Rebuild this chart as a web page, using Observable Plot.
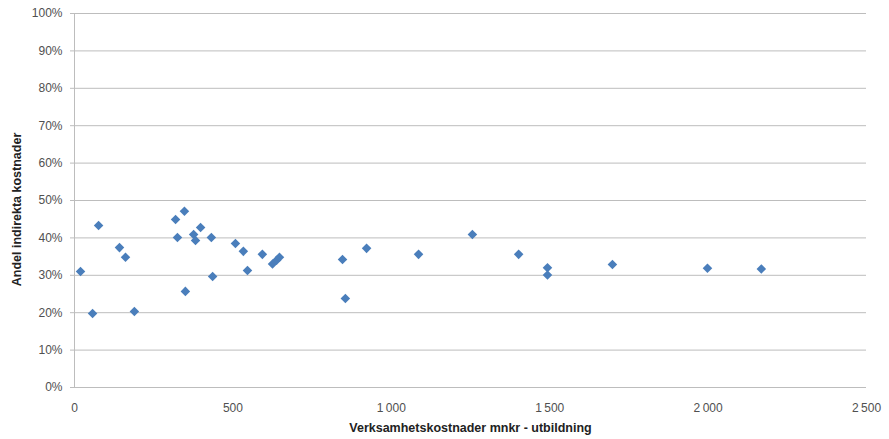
<!DOCTYPE html>
<html>
<head>
<meta charset="utf-8">
<script src="https://cdn.jsdelivr.net/npm/d3@7"></script>
<script src="https://cdn.jsdelivr.net/npm/@observablehq/plot@0.6"></script>
<style>
  html, body { margin: 0; padding: 0; background: #fff; }
  #chart svg { display: block; }
</style>
</head>
<body>
<div id="chart"></div>
<script>
const costs = [19, 57, 76, 142, 161, 189, 319, 325, 347, 350, 376, 382, 398, 432, 436, 508, 533, 546, 593, 625, 638, 647, 846, 855, 922, 1086, 1256, 1402, 1493, 1493, 1698, 1998, 2168];
const shares = [0.310, 0.198, 0.433, 0.374, 0.348, 0.203, 0.449, 0.401, 0.471, 0.257, 0.409, 0.393, 0.428, 0.401, 0.297, 0.385, 0.364, 0.313, 0.356, 0.330, 0.340, 0.348, 0.342, 0.238, 0.372, 0.356, 0.409, 0.356, 0.320, 0.301, 0.329, 0.319, 0.317];
const xTicks = [0, 500, 1000, 1500, 2000, 2500];
const yTicks = [0, 0.1, 0.2, 0.3, 0.4, 0.5, 0.6, 0.7, 0.8, 0.9, 1.0];

const data = costs.map((c, i) => ({cost: c, share: shares[i]}));
const fmtX = d => d >= 1000 ? Math.floor(d / 1000) + "\u2009" + String(d % 1000).padStart(3, "0") : String(d);
const fmtY = d => Math.round(d * 100) + "%";

const chart = Plot.plot({
  width: 889,
  height: 439,
  marginLeft: 74,
  marginRight: 23,
  marginTop: 13,
  marginBottom: 52,
  style: {fontFamily: "'Liberation Sans', Arial, sans-serif", fontSize: "12px", color: "#505050", background: "#fff"},
  x: {domain: [0, 2500]},
  y: {domain: [0, 1]},
  marks: [
    Plot.gridY(yTicks, {stroke: "#bdbdbd", strokeOpacity: 1, strokeWidth: 1}),
    Plot.ruleX([0], {stroke: "#bdbdbd", strokeWidth: 1}),
    Plot.axisX({ticks: xTicks, tickFormat: fmtX, tickSize: 0, tickPadding: 16, fill: "#505050",
      label: "Verksamhetskostnader mnkr - utbildning", labelAnchor: "center", labelArrow: "none", labelOffset: 44}),
    Plot.axisY({ticks: yTicks, tickFormat: fmtY, tickSize: 4, tickPadding: 8, stroke: "#bdbdbd", fill: "#505050",
      label: "Andel indirekta kostnader", labelAnchor: "center", labelArrow: "none", labelOffset: 62}),
    Plot.dot(data, {x: "cost", y: "share", symbol: "diamond2", r: 4.3, fill: "#4a7ebb", stroke: "none"})
  ]
});

// Bold axis labels
chart.querySelectorAll("[aria-label='x-axis label'] text, [aria-label='y-axis label'] text").forEach(t => {
  t.setAttribute("font-weight", "bold");
  t.setAttribute("font-size", "12.5px");
  t.setAttribute("fill", "#222");
});
// Nudge y label down slightly, as in the reference
chart.querySelectorAll("[aria-label='y-axis label'] text").forEach(t => {
  t.setAttribute("dx", "-9");
});
document.getElementById("chart").appendChild(chart);
</script>
</body>
</html>
